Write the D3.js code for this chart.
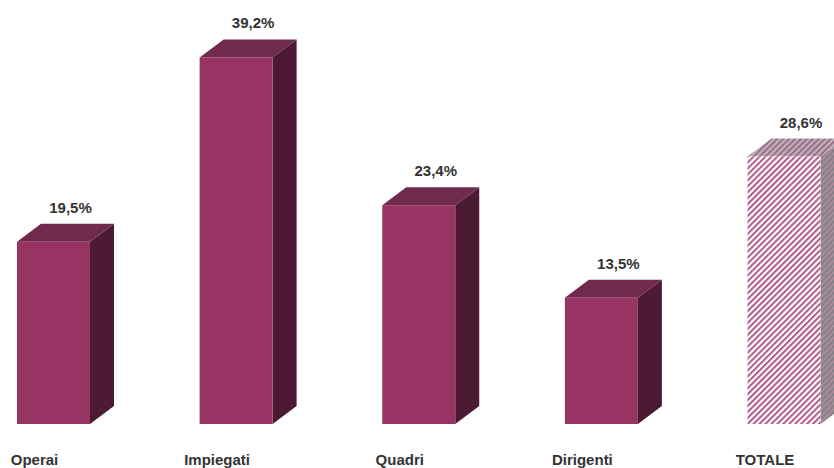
<!DOCTYPE html>
<html>
<head>
<meta charset="utf-8">
<script src="https://cdn.jsdelivr.net/npm/d3@7/dist/d3.min.js"></script>
<style>
  html, body { margin: 0; padding: 0; background: #ffffff; }
  svg { display: block; }
  text { font-family: "Liberation Sans", Arial, sans-serif; font-weight: bold; fill: #333333; }
</style>
</head>
<body>
<svg id="chart" width="834" height="468"></svg>
<script>
// Quota percentuale per categoria professionale
const categories = ["Operai", "Impiegati", "Quadri", "Dirigenti", "TOTALE"];
const values = [19.5, 39.2, 23.4, 13.5, 28.6];
const valueLabels = ["19,5%", "39,2%", "23,4%", "13,5%", "28,6%"];
const totalCategory = "TOTALE";

const svg = d3.select("#chart");

const x = d3.scalePoint().domain(categories).range([53.5, 784]).padding(0);
const y = d3.scaleLinear().domain([0, 40]).range([424, 50]);

const barW = 73;        // front face width
const dx = 24, dy = 18; // 3D depth offset

// Hatch patterns for the total bar
const defs = svg.append("defs");
function hatch(id, bg, stroke, sw) {
  const s = 4.2;
  const p = defs.append("pattern")
    .attr("id", id)
    .attr("patternUnits", "userSpaceOnUse")
    .attr("width", s).attr("height", s)
    .attr("patternTransform", "rotate(45)");
  p.append("rect").attr("width", s).attr("height", s).attr("fill", bg);
  p.append("line").attr("x1", 1).attr("y1", 0).attr("x2", 1).attr("y2", s)
    .attr("stroke", stroke).attr("stroke-width", sw);
}
hatch("hFront", "#ffffff", "#b35c8b", 2.1);
hatch("hTop", "#b5b5b5", "#a4628a", 1.8);
hatch("hSide", "#858585", "#b48aa2", 1.6);

const data = categories.map((c, i) => ({ cat: c, v: values[i], label: valueLabels[i] }));

const g = svg.append("g");

data.forEach(d => {
  const x0 = x(d.cat) - barW / 2, x1 = x0 + barW;
  const yt = y(d.v), yb = y(0);
  const isTotal = d.cat === totalCategory;
  const bar = g.append("g");

  // right side face
  bar.append("path")
    .attr("d", `M${x1},${yt} L${x1 + dx},${yt - dy} L${x1 + dx},${yb - dy} L${x1},${yb} Z`)
    .attr("fill", isTotal ? "url(#hSide)" : "#4d1a33");
  // top face
  bar.append("path")
    .attr("d", `M${x0},${yt} L${x0 + dx},${yt - dy} L${x1 + dx},${yt - dy} L${x1},${yt} Z`)
    .attr("fill", isTotal ? "url(#hTop)" : "#6f2a4d");
  // front face
  bar.append("rect")
    .attr("x", x0).attr("y", yt)
    .attr("width", barW).attr("height", yb - yt)
    .attr("fill", isTotal ? "url(#hFront)" : "#983463");

  // value label
  g.append("text")
    .attr("x", x(d.cat) + 17)
    .attr("y", yt - dy - 11)
    .attr("text-anchor", "middle")
    .attr("font-size", 15)
    .text(d.label);
});

// category labels
g.selectAll("text.cat")
  .data(categories)
  .join("text")
  .attr("class", "cat")
  .attr("x", c => x(c) - 19)
  .attr("y", 465)
  .attr("text-anchor", "middle")
  .attr("font-size", 15)
  .text(c => c);
</script>
</body>
</html>
